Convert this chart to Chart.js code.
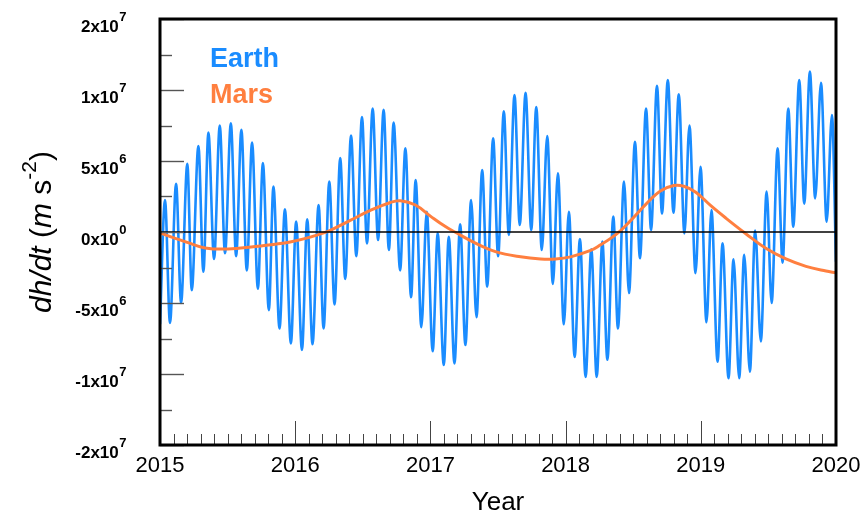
<!DOCTYPE html>
<html>
<head>
<meta charset="utf-8">
<title>dh/dt Earth and Mars</title>
<script src="https://cdn.jsdelivr.net/npm/chart.js@4.4.1/dist/chart.umd.min.js"></script>
<style>
  html, body { margin: 0; padding: 0; background: #fff; }
  #chart { display: block; }
</style>
</head>
<body>
<canvas id="chart" width="865" height="519"></canvas>
<script>
// values are in units of 10^6 m s^-2
const earthYears = [
  2015.000, 2015.037, 2015.074, 2015.119, 2015.156, 2015.202, 2015.235, 2015.284, 2015.321, 2015.358,
  2015.400, 2015.442, 2015.481, 2015.524, 2015.563, 2015.602, 2015.642, 2015.681, 2015.724, 2015.761,
  2015.805, 2015.839, 2015.884, 2015.924, 2015.968, 2016.007, 2016.050, 2016.089, 2016.128, 2016.173,
  2016.210, 2016.252, 2016.291, 2016.333, 2016.370, 2016.413, 2016.452, 2016.494, 2016.531, 2016.573,
  2016.613, 2016.654, 2016.693, 2016.728, 2016.776, 2016.815, 2016.857, 2016.891, 2016.933, 2016.973,
  2017.017, 2017.054, 2017.099, 2017.136, 2017.178, 2017.220, 2017.259, 2017.301, 2017.341, 2017.383,
  2017.420, 2017.464, 2017.501, 2017.543, 2017.580, 2017.622, 2017.661, 2017.704, 2017.746, 2017.783,
  2017.824, 2017.864, 2017.906, 2017.943, 2017.987, 2018.024, 2018.067, 2018.106, 2018.148, 2018.190,
  2018.230, 2018.272, 2018.309, 2018.353, 2018.387, 2018.432, 2018.469, 2018.513, 2018.550, 2018.595,
  2018.632, 2018.676, 2018.713, 2018.756, 2018.798, 2018.837, 2018.879, 2018.916, 2018.961, 2018.998,
  2019.042, 2019.079, 2019.124, 2019.161, 2019.205, 2019.242, 2019.284, 2019.321, 2019.363, 2019.402,
  2019.444, 2019.487, 2019.524, 2019.568, 2019.605, 2019.647, 2019.684, 2019.728, 2019.765, 2019.807,
  2019.846, 2019.889, 2019.931, 2019.970, 2020.000
];
const earthValues = [
  -6.5, 2.25, -6.4, 3.4, -5.0, 4.8, -4.1, 6.06, -2.8, 7.0,
  -1.9, 7.5, -1.5, 7.65, -1.7, 7.2, -2.7, 6.3, -4.0, 4.85,
  -5.5, 3.2, -6.8, 1.6, -7.85, 0.73, -8.3, 0.9, -7.9, 1.9,
  -6.8, 3.55, -5.1, 5.2, -3.3, 6.8, -1.7, 8.1, -0.8, 8.7,
  -0.56, 8.6, -1.27, 7.7, -2.7, 5.9, -4.6, 3.66, -6.7, 1.43,
  -8.4, -0.1, -9.37, -0.33, -9.25, 0.54, -7.96, 2.25, -6.0, 4.37,
  -3.85, 6.6, -1.7, 8.5, -0.2, 9.65, 0.5, 9.8, 0.14, 8.8,
  -1.27, 6.76, -3.66, 4.13, -6.5, 1.43, -8.8, -0.5, -10.2, -1.22,
  -10.2, -0.68, -9.0, 1.08, -6.8, 3.55, -4.3, 6.36, -1.85, 8.7,
  0.14, 10.3, 1.3, 10.7, 1.36, 9.7, -0.1, 7.5, -2.9, 4.6,
  -6.36, 1.55, -9.13, -0.8, -10.3, -1.92, -10.3, -1.6, -9.84, 0.1,
  -7.7, 2.84, -5.0, 5.9, -2.16, 8.7, 0.37, 10.7, 2.0, 11.3,
  2.37, 10.5, 0.73, 8.24, -2.1
];

const marsYears = [
  2015.000, 2015.207, 2015.333, 2015.504, 2015.704, 2015.852, 2015.963, 2016.111, 2016.259, 2016.407,
  2016.556, 2016.704, 2016.778, 2016.889, 2017.000, 2017.111, 2017.185, 2017.333, 2017.481, 2017.667,
  2017.815, 2017.926, 2018.037, 2018.185, 2018.259, 2018.333, 2018.407, 2018.481, 2018.593, 2018.704,
  2018.800, 2018.874, 2018.963, 2019.074, 2019.185, 2019.333, 2019.481, 2019.630, 2019.778, 2019.926,
  2020.000
];
const marsValues = [
  -0.07, -0.75, -1.12, -1.2, -1.02, -0.86, -0.7, -0.36, 0.12, 0.82,
  1.52, 2.08, 2.2, 1.9, 1.12, 0.38, -0.02, -0.78, -1.38, -1.75,
  -1.9, -1.9, -1.75, -1.3, -0.9, -0.45, 0.1, 0.8, 1.95, 2.9,
  3.27, 3.22, 2.8, 1.85, 0.98, -0.12, -1.15, -1.9, -2.42, -2.75,
  -2.87
];

const yearLabels = [2015, 2016, 2017, 2018, 2019, 2020];
const seriesNames = ['Earth', 'Mars'];

const EARTH = '#1a8cff';
const MARS  = '#ff7f3f';
const FONT  = "'Liberation Sans', Arial, Helvetica, sans-serif";
const UNIT  = 1e6;

function toPoints(xs, vs) {
  return xs.map((t, i) => ({ x: t, y: vs[i] * UNIT }));
}

// "2x10^7" style: mantissa rounded to a whole number
function sciParts(v) {
  if (Math.abs(v) < 1) return ['0x10', '0'];
  const e = Math.floor(Math.log10(Math.abs(v)) + 1e-9);
  return [(v / Math.pow(10, e)).toFixed(0) + 'x10', String(e)];
}

function isMultiple(v, step) {
  const q = v / step;
  return Math.abs(q - Math.round(q)) < 1e-6;
}

const framePlugin = {
  id: 'frame',
  afterDatasetsDraw(chart) {
    const { ctx, chartArea: a, scales: { x, y } } = chart;
    ctx.save();

    // zero line
    const y0 = y.getPixelForValue(0);
    ctx.strokeStyle = '#000';
    ctx.lineWidth = 1.6;
    ctx.beginPath();
    ctx.moveTo(a.left, y0);
    ctx.lineTo(a.right, y0);
    ctx.stroke();

    // inward tick marks
    ctx.strokeStyle = '#555';
    ctx.lineWidth = 1.4;
    for (const t of y.ticks) {
      const p = Math.round(y.getPixelForValue(t.value)) + 0.5;
      const len = isMultiple(t.value, 5e6) ? 24 : 12;
      ctx.beginPath();
      ctx.moveTo(a.left, p);
      ctx.lineTo(a.left + len, p);
      ctx.stroke();
    }
    ctx.strokeStyle = '#444';
    ctx.lineWidth = 1;
    for (const t of x.ticks) {
      const p = Math.round(x.getPixelForValue(t.value)) + 0.5;
      const len = isMultiple(t.value, 1) ? 24 : 11;
      ctx.beginPath();
      ctx.moveTo(p, a.bottom);
      ctx.lineTo(p, a.bottom - len);
      ctx.stroke();
    }

    // box
    ctx.strokeStyle = '#000';
    ctx.lineWidth = 3;
    ctx.strokeRect(a.left, a.top, a.right - a.left, a.bottom - a.top);
    ctx.restore();
  },
  afterDraw(chart) {
    const { ctx, chartArea: a, scales: { x, y } } = chart;
    ctx.save();
    ctx.fillStyle = '#000';

    // y tick labels with exponent
    for (const t of y.ticks) {
      if (!isMultiple(t.value, 5e6)) continue;
      const p = y.getPixelForValue(t.value);
      const [base, exp] = sciParts(t.value);
      ctx.font = 'bold 17px ' + FONT;
      const wb = ctx.measureText(base).width;
      ctx.font = 'bold 13px ' + FONT;
      const we = ctx.measureText(exp).width;
      const x0 = 126 - wb - we;
      ctx.textAlign = 'left';
      ctx.textBaseline = 'alphabetic';
      ctx.font = 'bold 17px ' + FONT;
      ctx.fillText(base, x0, p + 12.5);
      ctx.font = 'bold 13px ' + FONT;
      ctx.fillText(exp, x0 + wb + 0.5, p + 1.5);
    }

    // year labels
    ctx.font = '22px ' + FONT;
    ctx.textAlign = 'center';
    ctx.textBaseline = 'middle';
    for (const yr of yearLabels) {
      ctx.fillText(String(yr), x.getPixelForValue(yr), 466);
    }

    // axis titles
    ctx.font = '26px ' + FONT;
    ctx.fillText('Year', (a.left + a.right) / 2, 503);

    const parts = [
      { t: 'dh/dt', f: 'italic 30px ' },
      { t: ' (', f: '30px ' },
      { t: 'm', f: 'italic 30px ' },
      { t: ' s', f: '30px ' },
      { t: '-2', f: '21px ', up: 15 },
      { t: ')', f: '30px ' }
    ];
    let total = 0;
    for (const s of parts) {
      ctx.font = s.f + FONT;
      s.w = ctx.measureText(s.t).width;
      total += s.w;
    }
    ctx.translate(51, (a.top + a.bottom) / 2);
    ctx.rotate(-Math.PI / 2);
    ctx.textAlign = 'left';
    ctx.textBaseline = 'alphabetic';
    let cx = -total / 2;
    for (const s of parts) {
      ctx.font = s.f + FONT;
      ctx.fillText(s.t, cx, -(s.up || 0));
      cx += s.w;
    }
    ctx.setTransform(1, 0, 0, 1, 0, 0);

    // series names
    ctx.font = 'bold 27px ' + FONT;
    ctx.textAlign = 'left';
    ctx.fillStyle = EARTH;
    ctx.fillText(seriesNames[0], 210, 67);
    ctx.fillStyle = MARS;
    ctx.fillText(seriesNames[1], 210, 103);
    ctx.restore();
  }
};

new Chart(document.getElementById('chart'), {
  type: 'line',
  data: {
    datasets: [
      {
        label: seriesNames[0],
        data: toPoints(earthYears, earthValues),
        borderColor: EARTH,
        borderWidth: 2.6,
        pointRadius: 0,
        cubicInterpolationMode: 'monotone',
        order: 2
      },
      {
        label: seriesNames[1],
        data: toPoints(marsYears, marsValues),
        borderColor: MARS,
        borderWidth: 3,
        pointRadius: 0,
        tension: 0.4,
        order: 1
      }
    ]
  },
  options: {
    responsive: false,
    animation: false,
    devicePixelRatio: 1,
    layout: { padding: { left: 160, right: 29, top: 19, bottom: 74 } },
    plugins: { legend: { display: false }, tooltip: { enabled: false } },
    scales: {
      x: {
        type: 'linear',
        min: 2015,
        max: 2020,
        ticks: { display: false, stepSize: 0.1 },
        grid: { display: false, drawTicks: false },
        border: { display: false }
      },
      y: {
        min: -1.5e7,
        max: 1.5e7,
        ticks: { display: false, stepSize: 2.5e6 },
        grid: { display: false, drawTicks: false },
        border: { display: false }
      }
    }
  },
  plugins: [framePlugin]
});
</script>
</body>
</html>
